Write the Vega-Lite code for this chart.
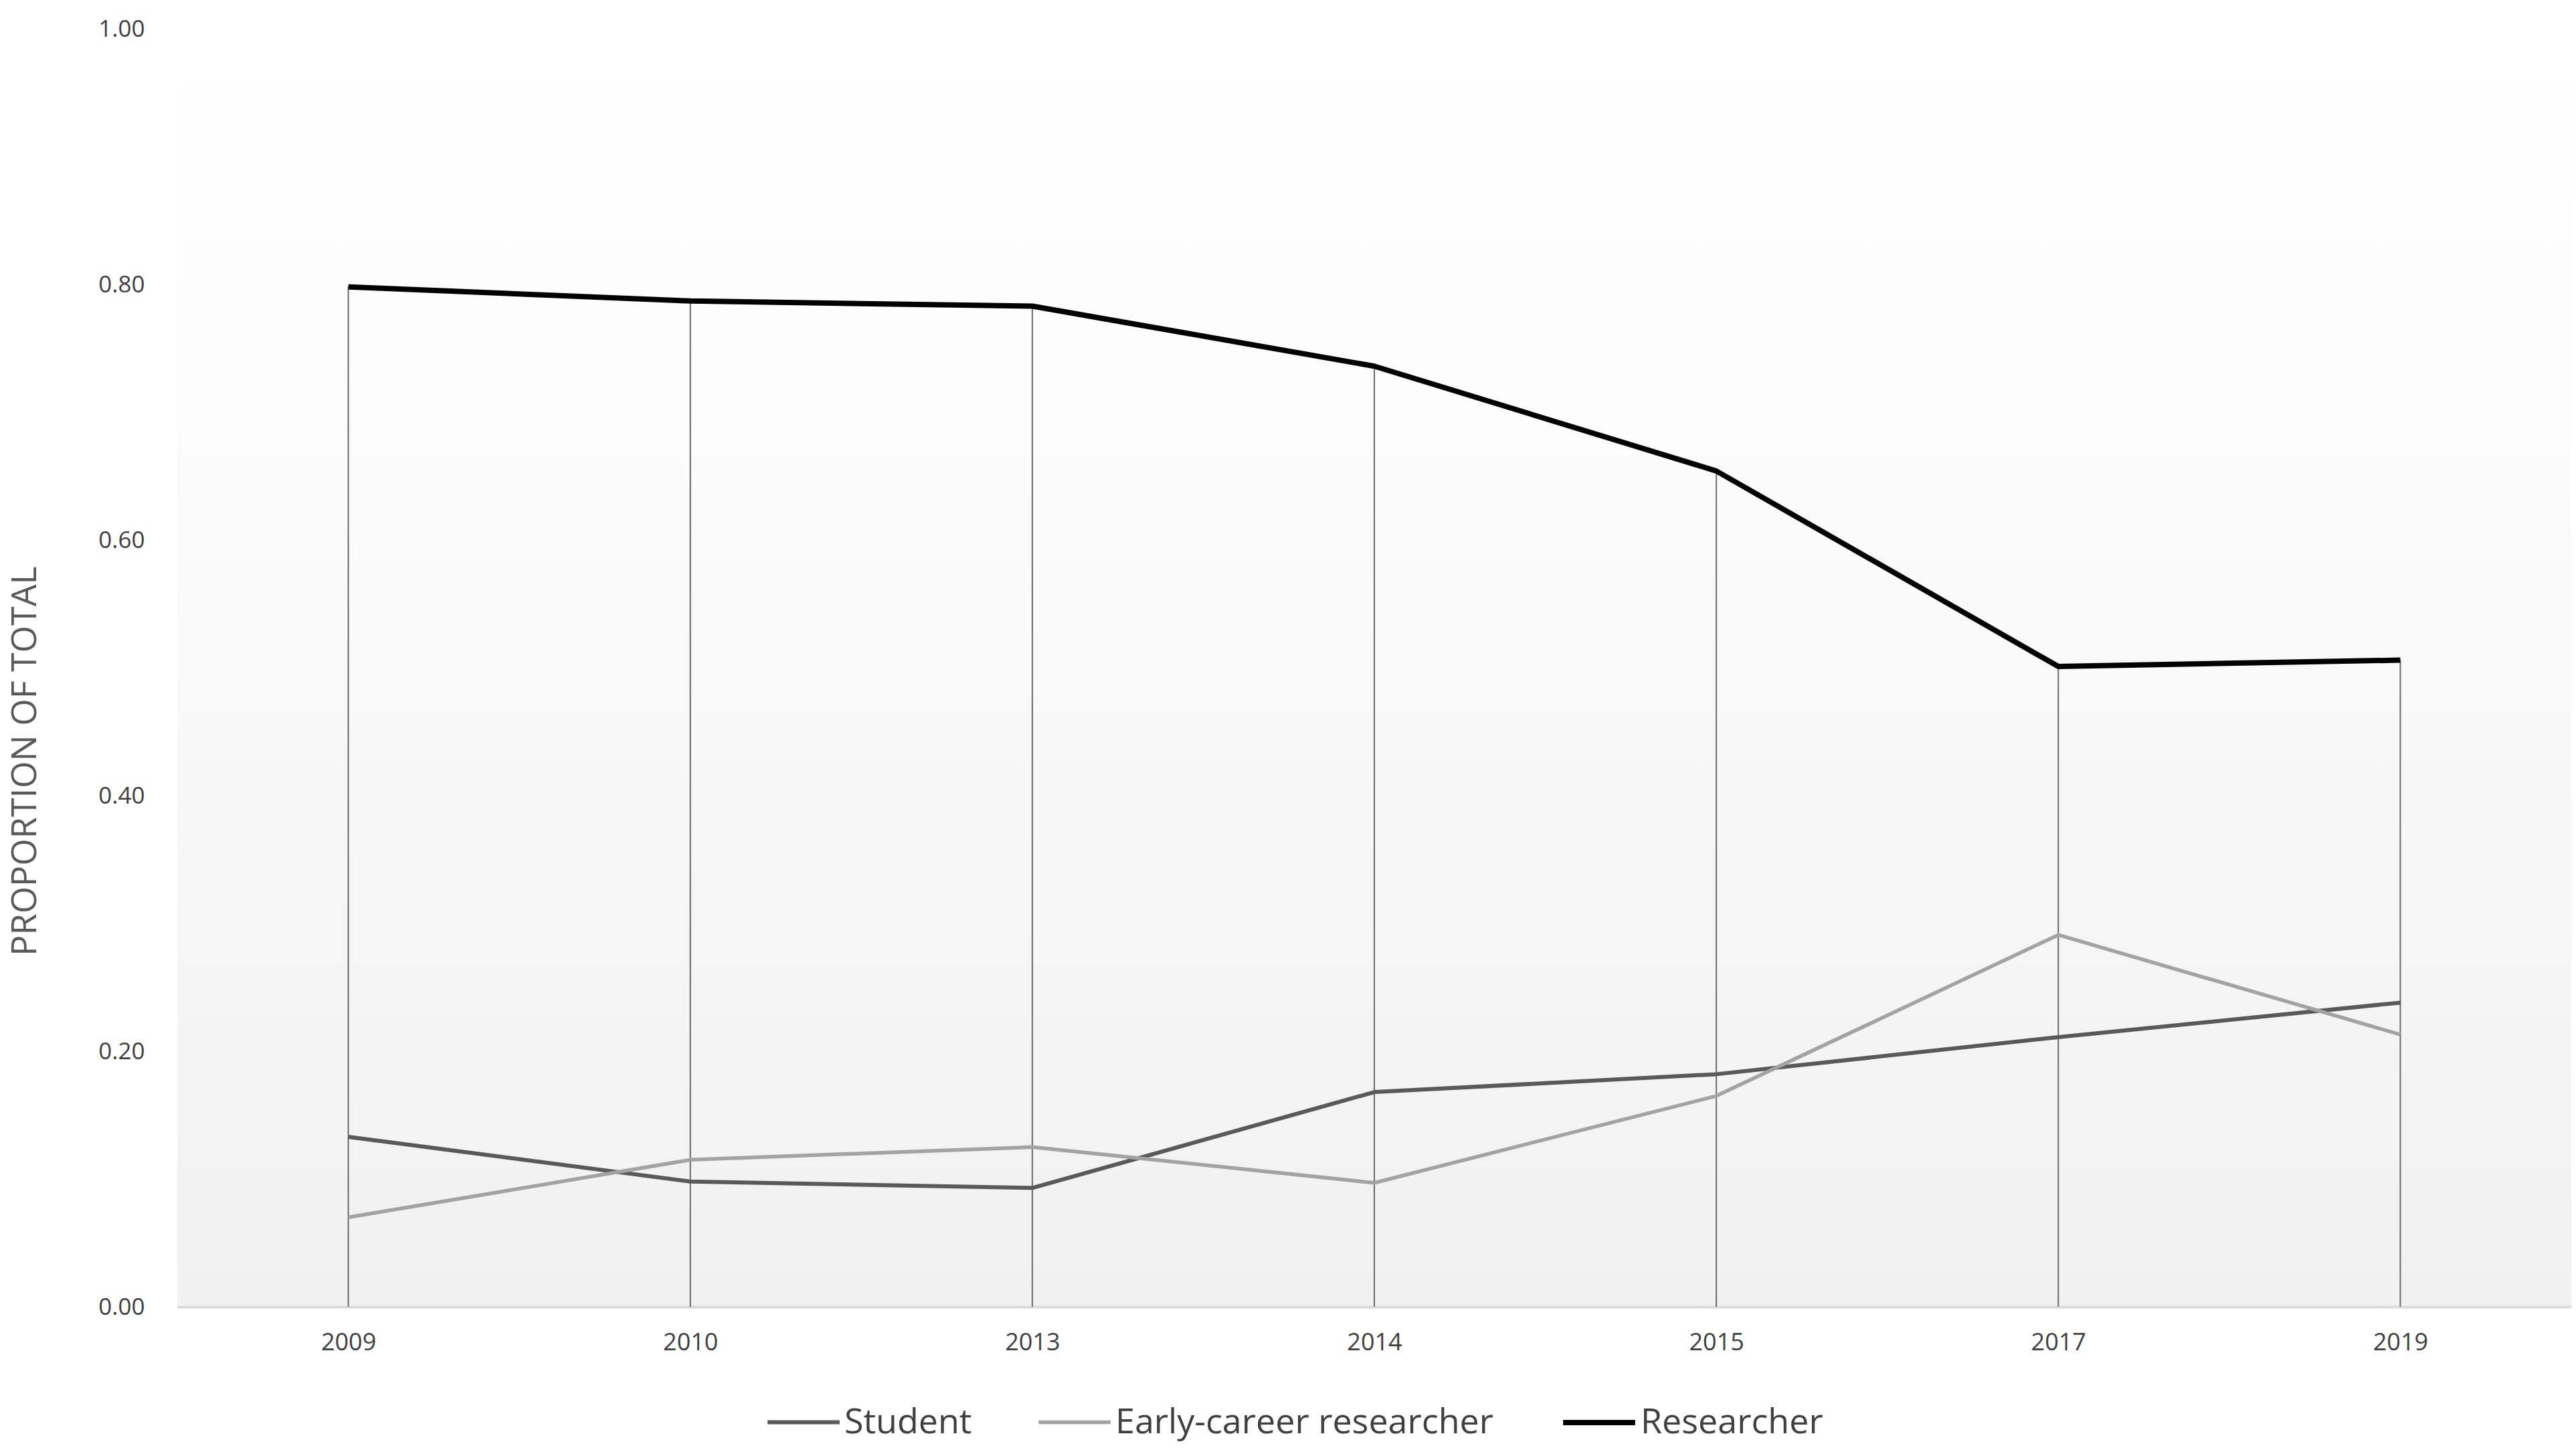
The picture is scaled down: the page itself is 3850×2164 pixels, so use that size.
{
  "$schema": "https://vega.github.io/schema/vega-lite/v6.json",
  "width": 3578,
  "height": 1910,
  "autosize": {"type": "none"},
  "padding": {"left": 265, "top": 43, "right": 7, "bottom": 211},
  "background": "#ffffff",
  "config": {
    "font": "Open Sans",
    "view": {"stroke": null},
    "axis": {"grid": false, "ticks": false, "labelColor": "#595959", "labelFont": "Open Sans", "titleFont": "Open Sans"}
  },
  "view": {
    "fill": {"gradient": "linear", "x1": 0, "y1": 0, "x2": 0, "y2": 1, "stops": [{"offset": 0, "color": "#ffffff"}, {"offset": 0.3, "color": "#fcfcfc"}, {"offset": 1, "color": "#f1f1f1"}]},
    "stroke": null
  },
  "datasets": {
    "series": [
      {"year": "2009", "group": "Student", "value": 0.133},
      {"year": "2010", "group": "Student", "value": 0.098},
      {"year": "2013", "group": "Student", "value": 0.093},
      {"year": "2014", "group": "Student", "value": 0.168},
      {"year": "2015", "group": "Student", "value": 0.182},
      {"year": "2017", "group": "Student", "value": 0.211},
      {"year": "2019", "group": "Student", "value": 0.238},
      {"year": "2009", "group": "Early-career researcher", "value": 0.070},
      {"year": "2010", "group": "Early-career researcher", "value": 0.115},
      {"year": "2013", "group": "Early-career researcher", "value": 0.125},
      {"year": "2014", "group": "Early-career researcher", "value": 0.097},
      {"year": "2015", "group": "Early-career researcher", "value": 0.165},
      {"year": "2017", "group": "Early-career researcher", "value": 0.291},
      {"year": "2019", "group": "Early-career researcher", "value": 0.213},
      {"year": "2009", "group": "Researcher", "value": 0.798},
      {"year": "2010", "group": "Researcher", "value": 0.787},
      {"year": "2013", "group": "Researcher", "value": 0.783},
      {"year": "2014", "group": "Researcher", "value": 0.736},
      {"year": "2015", "group": "Researcher", "value": 0.654},
      {"year": "2017", "group": "Researcher", "value": 0.501},
      {"year": "2019", "group": "Researcher", "value": 0.506}
    ]
  },
  "data": {"name": "series"},
  "encoding": {
    "x": {
      "field": "year", "type": "ordinal",
      "scale": {"type": "point", "padding": 0.5},
      "axis": {"title": null, "labelAngle": 0, "labelFontSize": 36, "labelPadding": 36, "domainColor": "#d9d9d9", "domainWidth": 4, "labelColor": "#404040"}
    },
    "y": {
      "field": "value", "type": "quantitative",
      "scale": {"domain": [0, 1], "nice": false, "zero": true},
      "axis": {"title": "PROPORTION OF TOTAL", "values": [0, 0.2, 0.4, 0.6, 0.8, 1.0], "format": ".2f", "domain": false, "labelFontSize": 35, "labelPadding": 49, "labelColor": "#404040",
        "titleFontSize": 52, "titleFontWeight": "normal", "titleColor": "#595959", "titleAngle": 270, "titleX": -228, "titleY": 1094, "titleAlign": "center", "titleBaseline": "middle"}
    }
  },
  "layer": [
    {
      "transform": [{"filter": "datum.group === 'Researcher'"}],
      "mark": {"type": "rule", "color": "#6a6a6a", "strokeWidth": 2},
      "encoding": {"y2": {"datum": 0}}
    },
    {
      "mark": {"type": "line", "strokeJoin": "round"},
      "encoding": {
        "color": {
          "field": "group", "type": "ordinal",
          "sort": ["Student", "Early-career researcher", "Researcher"],
          "scale": {"domain": ["Student", "Early-career researcher", "Researcher"], "range": ["#595959", "#a3a3a3", "#000000"]},
          "legend": {"title": null, "orient": "none", "direction": "horizontal", "legendX": 879, "legendY": 2025, "symbolType": "stroke", "symbolSize": 11600, "labelFontSize": 52, "labelLimit": 0, "labelColor": "#404040", "labelOffset": 4, "columnPadding": 88, "padding": 0}
        },
        "strokeWidth": {
          "field": "group", "type": "ordinal",
          "sort": ["Student", "Early-career researcher", "Researcher"],
          "scale": {"type": "ordinal", "domain": ["Student", "Early-career researcher", "Researcher"], "range": [6, 5.5, 8]},
          "legend": null
        }
      }
    }
  ]
}
